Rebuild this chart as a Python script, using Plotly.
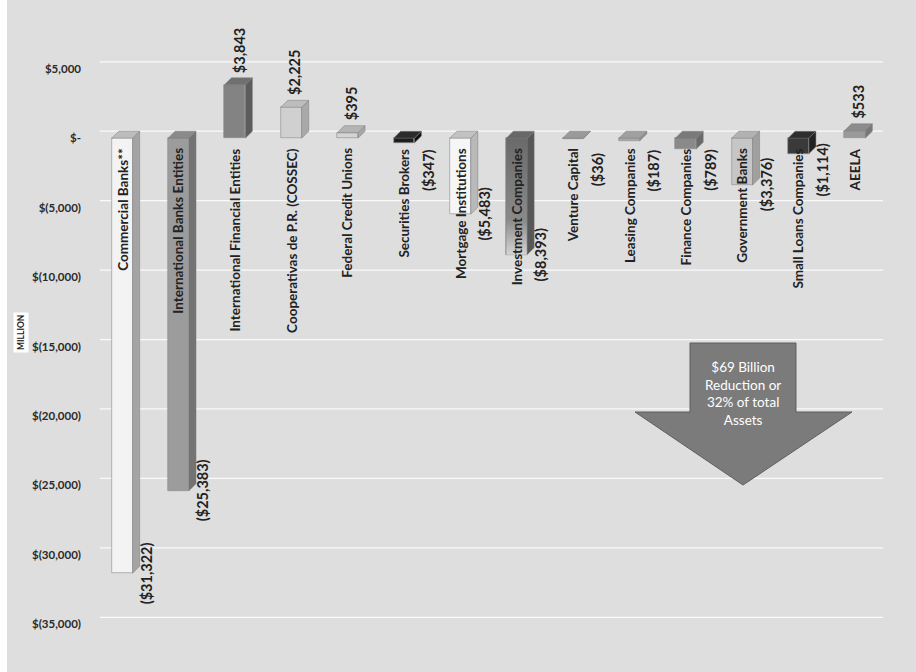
import plotly.graph_objects as go

categories = ["Commercial Banks**", "International Banks Entities", "International Financial Entities",
              "Cooperativas de P.R. (COSSEC)", "Federal Credit Unions", "Securities Brokers",
              "Mortgage Institutions", "Investment Companies", "Venture Capital", "Leasing Companies",
              "Finance Companies", "Government Banks", "Small Loans Companies", "AEELA"]
values = [-31322, -25383, 3843, 2225, 395, -347, -5483, -8393, -36, -187, -789, -3376, -1114, 533]
value_labels = ["($31,322)", "($25,383)", "$3,843", "$2,225", "$395", "($347)", "($5,483)",
                "($8,393)", "($36)", "($187)", "($789)", "($3,376)", "($1,114)", "$533"]
front_colors = ["#f3f3f3", "#9c9c9c", "#838383", "#d0d0d0", "#d4d4d4", "#1e1e1e", "#f6f6f6",
                "#727272", "#a2a2a2", "#a9a9a9", "#8a8a8a", "#c6c6c6", "#3a3a3a", "#9a9a9a"]
side_colors = ["#a4a4a4", "#737373", "#5c5c5c", "#a9a9a9", "#a8a8a8", "#111111", "#b9b9b9",
               "#575757", "#8a8a8a", "#8e8e8e", "#6a6a6a", "#a0a0a0", "#222222", "#787878"]
top_colors = ["#bcbcbc", "#8a8a8a", "#707070", "#bdbdbd", "#b4b4b4", "#2c2c2c", "#c2c2c2",
              "#686868", "#9a9a9a", "#a0a0a0", "#7a7a7a", "#b2b2b2", "#2e2e2e", "#8c8c8c"]
tick_values = [5000, 0, -5000, -10000, -15000, -20000, -25000, -30000, -35000]
tick_labels = ["$5,000", "$-", "$(5,000)", "$(10,000)", "$(15,000)", "$(20,000)",
               "$(25,000)", "$(30,000)", "$(35,000)"]
arrow_text = "$69 Billion<br>Reduction or<br>32% of total<br>Assets"
axis_title = "MILLION"

W, H = 916, 672
ML, MR, MT, MB = 94, 33, 34, 20
PW, PH = W - ML - MR, H - MT - MB

def X(px):
    return (px - ML) / PW

def Y(py):
    return (H - MB - py) / PH

BW = 0.37      # bar front width (category units)
DX = 0.125     # depth in x
DY = 500       # depth in y (data units)
FONT = "Lato"

xs = list(range(len(categories)))
fig = go.Figure()
fig.add_trace(go.Bar(x=xs, y=values, width=BW, marker=dict(color=front_colors,
                     line=dict(color="#8c8c8c", width=0.6)), hoverinfo="skip", showlegend=False))

# gradient overlay for the Investment Companies front face (fades toward its bottom)
gi = categories.index("Investment Companies")
gv = values[gi]
fig.add_trace(go.Scatter(x=[gi - BW / 2, gi + BW / 2, gi + BW / 2, gi - BW / 2, gi - BW / 2],
                         y=[0, 0, gv, gv, 0], fill="toself", mode="lines",
                         line=dict(color="rgba(0,0,0,0)", width=0),
                         fillgradient=dict(type="vertical",
                                           colorscale=[[0, "#d4d4d4"], [0.3, "#8a8a8a"], [1, "#6a6a6a"]]),
                         hoverinfo="skip", showlegend=False))

for i, v in enumerate(values):
    lo, hi = min(0, v), max(0, v)
    r = i + BW / 2
    l = i - BW / 2
    fig.add_trace(go.Scatter(x=[r, r + DX, r + DX, r, r], y=[lo, lo + DY, hi + DY, hi, lo],
                             fill="toself", fillcolor=side_colors[i], mode="lines",
                             line=dict(color="#7a7a7a", width=0.5), hoverinfo="skip", showlegend=False))
    fig.add_trace(go.Scatter(x=[l, l + DX, r + DX, r, l], y=[hi, hi + DY, hi + DY, hi, hi],
                             fill="toself", fillcolor=top_colors[i], mode="lines",
                             line=dict(color="#7a7a7a", width=0.5), hoverinfo="skip", showlegend=False))

shapes = []
shapes.append(dict(type="rect", xref="paper", yref="paper", x0=X(0), x1=X(7), y0=Y(H), y1=Y(0),
                   fillcolor="white", line=dict(width=0), layer="below"))
for t in tick_values:
    shapes.append(dict(type="line", xref="x", yref="y", x0=-0.4, x1=13.5 + 0.1, y0=t + DY, y1=t + DY,
                       line=dict(color="rgba(255,255,255,0.85)", width=1.3), layer="below"))
pts = [(690, 343), (796, 343), (796, 412), (852, 412), (743, 485), (635, 412), (690, 412)]
path = "M " + " L ".join(f"{X(a):.4f},{Y(b):.4f}" for a, b in pts) + " Z"
shapes.append(dict(type="path", xref="paper", yref="paper", path=path, fillcolor="#7b7b7b",
                   line=dict(color="#5e5e5e", width=1), layer="above"))

annotations = []
for i, (c, v, t) in enumerate(zip(categories, values, value_labels)):
    annotations.append(dict(x=i, y=0, xref="x", yref="y", text="<b>" + c + "</b>", textangle=-90,
                            showarrow=False, xanchor="center", yanchor="top", yshift=-8,
                            font=dict(family=FONT, size=13.5, color="#222222")))
    if v < 0:
        annotations.append(dict(x=i, y=min(v, -2300), xref="x", yref="y", text="<b>" + t + "</b>",
                                textangle=-90, showarrow=False, xanchor="center", yanchor="middle",
                                xshift=24, font=dict(family=FONT, size=14.5, color="#222222")))
    else:
        annotations.append(dict(x=i, y=v, xref="x", yref="y", text="<b>" + t + "</b>", textangle=-90,
                                showarrow=False, xanchor="center", yanchor="bottom", xshift=4, yshift=10,
                                font=dict(family=FONT, size=14.5, color="#222222")))

annotations.append(dict(x=X(743), y=Y(393), xref="paper", yref="paper", text=arrow_text,
                        showarrow=False, align="center", xanchor="center", yanchor="middle",
                        font=dict(family=FONT, size=13.5, color="white")))
annotations.append(dict(x=X(21), y=Y(333), xref="paper", yref="paper", text="<b>" + axis_title + "</b>",
                        textangle=-90, showarrow=False, bgcolor="white", borderpad=2,
                        xanchor="center", yanchor="middle",
                        font=dict(family=FONT, size=8.5, color="#222222")))

fig.update_layout(
    width=W, height=H, margin=dict(l=ML, r=MR, t=MT, b=MB),
    paper_bgcolor="#dedede", plot_bgcolor="rgba(0,0,0,0)",
    shapes=shapes, annotations=annotations, bargap=0,
    xaxis=dict(range=[-0.5, 13.5], showticklabels=False, showgrid=False, zeroline=False,
               showline=False, ticks=""),
    yaxis=dict(range=[-37000, 7500], tickvals=tick_values, ticktext=tick_labels, showgrid=False,
               zeroline=False, showline=False, ticks="", ticklabelstandoff=12,
               tickfont=dict(family=FONT, size=11.5, color="#2a2a2a", weight="bold")),
)

fig.write_html("out.html")
